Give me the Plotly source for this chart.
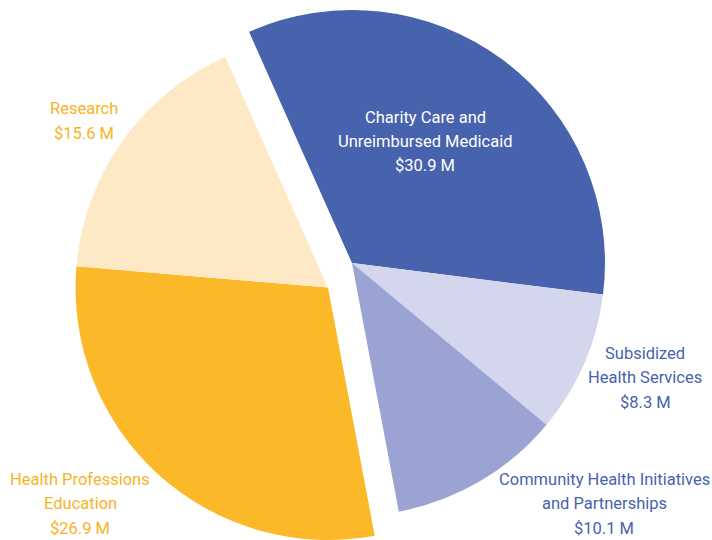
import plotly.graph_objects as go

categories = ["Charity Care and Unreimbursed Medicaid", "Subsidized Health Services",
              "Community Health Initiatives and Partnerships",
              "Health Professions Education", "Research"]
values = [30.9, 8.3, 10.1, 26.9, 15.6]
groups = ["blue", "blue", "blue", "yellow", "yellow"]
label_lines = [["Charity Care and", "Unreimbursed Medicaid"],
               ["Subsidized", "Health Services"],
               ["Community Health Initiatives", "and Partnerships"],
               ["Health Professions", "Education"],
               ["Research"]]
slice_colors = ["#4763AE", "#D3D6EC", "#9BA3D2", "#FBB829", "#FDE9C6"]
text_colors = ["#FFFFFF", "#4763AE", "#4763AE", "#F9B326", "#F9B326"]

FONT = "Roboto, sans-serif"

blue_idx = [i for i, g in enumerate(groups) if g == "blue"]
yel_idx = [i for i, g in enumerate(groups) if g == "yellow"]
blue_total = sum(values[i] for i in blue_idx)
yel_total = sum(values[i] for i in yel_idx)

fig = go.Figure()
fig.add_trace(go.Pie(
    labels=[categories[i] for i in blue_idx] + ["_other"],
    values=[values[i] for i in blue_idx] + [yel_total],
    marker=dict(colors=[slice_colors[i] for i in blue_idx] + ["rgba(0,0,0,0)"],
                line=dict(width=0)),
    sort=False, direction="clockwise", rotation=-24,
    textinfo="none", hoverinfo="label+value",
    domain=dict(x=[0.1390, 0.8497], y=[0.0444, 0.9815]),
    showlegend=False,
))
fig.add_trace(go.Pie(
    labels=["_other2"] + [categories[i] for i in yel_idx],
    values=[blue_total] + [values[i] for i in yel_idx],
    marker=dict(colors=["rgba(0,0,0,0)"] + [slice_colors[i] for i in yel_idx],
                line=dict(width=0)),
    sort=False, direction="clockwise", rotation=-24,
    textinfo="none", hoverinfo="label+value",
    domain=dict(x=[0.1053, 0.8160], y=[0.0, 0.935]),
    showlegend=False,
))

# label anchor positions (center x, first line y in px from top)
label_pos = [(425, 117), (645, 353), (604, 479), (80, 479), (84, 109)]
line_gap = 24.5
annotations = []
for i, lines in enumerate(label_lines):
    cx, y0 = label_pos[i]
    all_lines = lines + [f"${values[i]:.1f} M"]
    for k, t in enumerate(all_lines):
        y = y0 + k * line_gap
        annotations.append(dict(
            text=t, x=cx / 712, y=1 - y / 540, xref="paper", yref="paper",
            xanchor="center", yanchor="middle", showarrow=False,
            font=dict(family=FONT, size=16.5, color=text_colors[i]),
        ))

fig.update_layout(
    width=712, height=540,
    margin=dict(l=0, r=0, t=0, b=0),
    paper_bgcolor="white", plot_bgcolor="white",
    annotations=annotations,
)
fig.write_html("out.html", config={"displayModeBar": False},
               post_script="document.body.style.margin='0px';")
